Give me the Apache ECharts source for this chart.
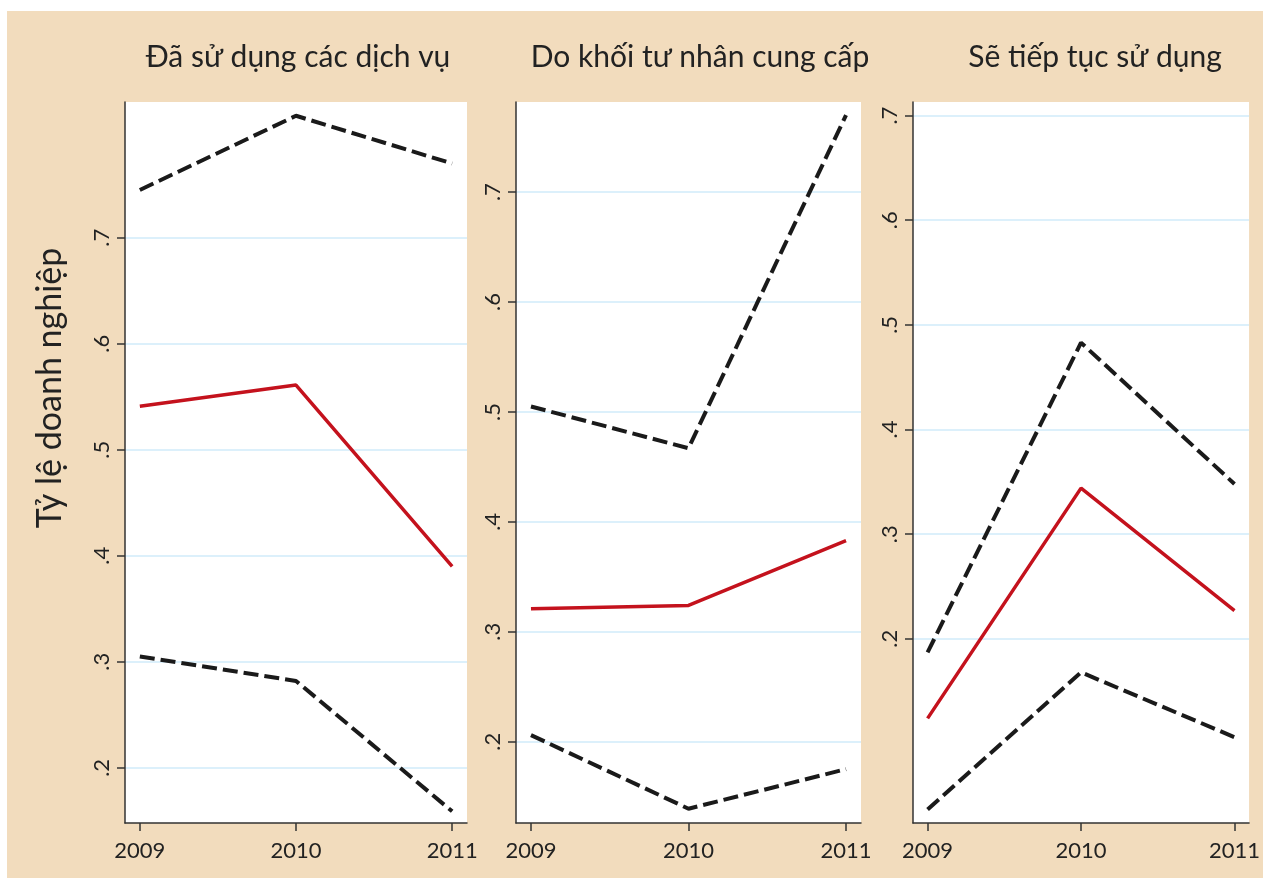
<!DOCTYPE html>
<html>
<head>
<meta charset="utf-8">
<script src="https://cdn.jsdelivr.net/npm/echarts@6/dist/echarts.min.js"></script>
<style>
  html, body { margin: 0; padding: 0; background: #ffffff; }
  #chart { position: absolute; left: 7px; top: 11px; width: 1256px; height: 867px; }
</style>
</head>
<body>
<div id="chart"></div>
<script>
// years on the x axis
const years = [2009, 2010, 2011];
const yTicks = [0.2, 0.3, 0.4, 0.5, 0.6, 0.7];

const panelTitles = ['Đã sử dụng các dịch vụ', 'Do khối tư nhân cung cấp', 'Sẽ tiếp tục sử dụng'];
const yTitle = 'Tỷ lệ doanh nghiệp';

// panel 1: da su dung
const usedUpper = [0.745, 0.815, 0.770];
const usedMean = [0.541, 0.561, 0.390];
const usedLower = [0.305, 0.282, 0.159];

// panel 2: khoi tu nhan
const privateUpper = [0.505, 0.467, 0.770];
const privateMean = [0.321, 0.324, 0.383];
const privateLower = [0.206, 0.139, 0.175];

// panel 3: tiep tuc su dung
const continueUpper = [0.187, 0.483, 0.348];
const continueMean = [0.124, 0.344, 0.227];
const continueLower = [0.037, 0.168, 0.106];

const yRanges = [[0.148, 0.828], [0.126, 0.782], [0.024, 0.713]];

const FONT = 'Lato, "Noto Sans", sans-serif';
const RED = '#c4121d';
const BLACK = '#1a1a1a';
const AXIS = '#333333';

const chart = echarts.init(document.getElementById('chart'));

const grids = [
  { left: 118, top: 91, width: 342, height: 721 },
  { left: 509, top: 91, width: 345, height: 721 },
  { left: 906, top: 91, width: 342, height: 721 },
].map((g) => ({ ...g, show: true, backgroundColor: '#ffffff', borderWidth: 0 }));

const xAxes = grids.map((g, i) => ({
  type: 'value',
  gridIndex: i,
  min: 2008.905,
  max: 2011.095,
  axisLine: { show: true, lineStyle: { color: AXIS, width: 1.5 } },
  axisTick: { show: true, length: 8, customValues: years, lineStyle: { color: AXIS, width: 1.5 } },
  axisLabel: {
    customValues: years,
    color: '#222',
    fontSize: 22,
    fontFamily: FONT,
    margin: 17,
    formatter: (v) => String(v),
  },
  splitLine: { show: false },
}));

const yAxes = yRanges.map((r, i) => ({
  type: 'value',
  gridIndex: i,
  min: r[0],
  max: r[1],
  axisLine: { show: true, lineStyle: { color: AXIS, width: 1.5 } },
  axisTick: { show: true, length: 8, customValues: yTicks, lineStyle: { color: AXIS, width: 1.5 } },
  axisLabel: {
    customValues: yTicks,
    rotate: 90,
    color: '#222',
    fontSize: 22,
    fontFamily: FONT,
    margin: 12,
    formatter: (v) => '.' + Math.round(v * 10),
  },
  splitLine: { show: true, lineStyle: { color: '#d0ebfa', width: 1.5 } },
}));

const panels = [
  [usedUpper, usedMean, usedLower],
  [privateUpper, privateMean, privateLower],
  [continueUpper, continueMean, continueLower],
];

const series = [];
panels.forEach((lines, i) => {
  lines.forEach((vals, j) => {
    const isMean = j === 1;
    series.push({
      type: 'line',
      xAxisIndex: i,
      yAxisIndex: i,
      data: years.map((y, k) => [y, vals[k]]),
      symbol: 'none',
      silent: true,
      lineStyle: isMean
        ? { color: RED, width: 3.5 }
        : { color: BLACK, width: 4, type: [15, 6] },
    });
  });
});

chart.setOption({
  backgroundColor: '#f2dcbd',
  animation: false,
  grid: grids,
  xAxis: xAxes,
  yAxis: yAxes,
  series,
  graphic: [
    ...panelTitles.map((t, i) => ({
      type: 'text',
      x: [291, 693, 1088][i],
      y: 46,
      style: { text: t, fill: '#222', font: '30px ' + FONT, textAlign: 'center', textVerticalAlign: 'middle' },
    })),
    {
      type: 'text',
      x: 43,
      y: 377,
      rotation: Math.PI / 2,
      style: { text: yTitle, fill: '#222', font: '34px ' + FONT, textAlign: 'center', textVerticalAlign: 'middle' },
    },
  ],
});
</script>
</body>
</html>
